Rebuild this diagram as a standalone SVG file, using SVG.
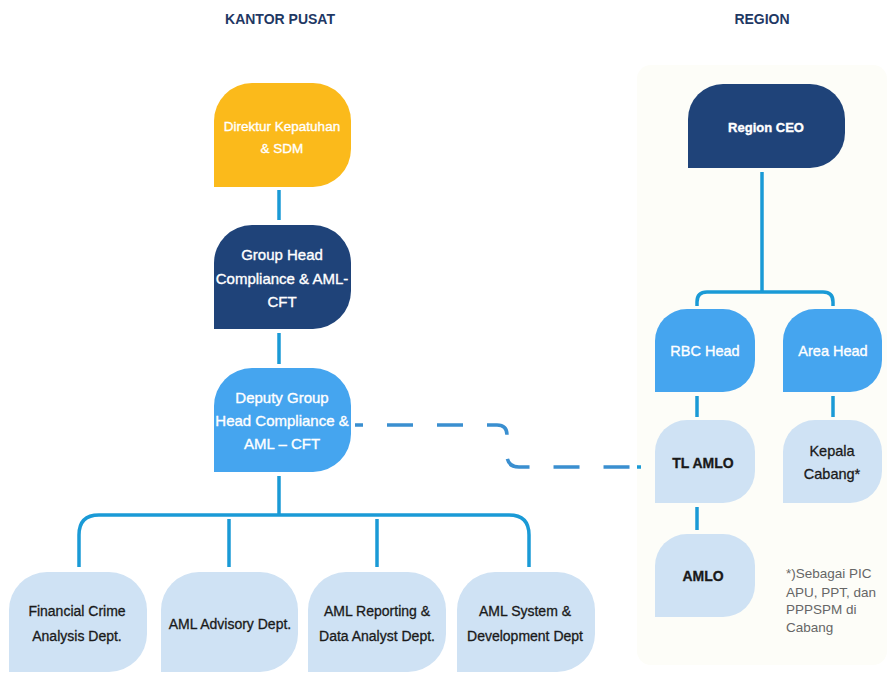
<svg xmlns="http://www.w3.org/2000/svg" width="887" height="675" viewBox="0 0 887 675">
<style>
text{font-family:"Liberation Sans",Arial,sans-serif;text-anchor:middle}
.hdr{font-size:14px;font-weight:bold;fill:#1F3864}
.w{fill:#FFFFFF;stroke:#FFFFFF;stroke-width:0.35}
.d{fill:#1A1A1A;stroke:#1A1A1A;stroke-width:0.3}
.yel{fill:#FBBA1B}
.navy{fill:#1F4379}
.mid{fill:#45A5EF}
.lt{fill:#CFE2F4}
.con{fill:none;stroke:#1A9AD6;stroke-width:3.5}
.dash{fill:none;stroke:#3A8FD0;stroke-width:3.5;stroke-dasharray:26 24}
.note{font-size:13.5px;fill:#666666;text-anchor:start}
</style>
<rect x="637" y="65" width="250" height="600" rx="14" fill="#FDFDF8"/>
<text class="hdr" x="280" y="24">KANTOR PUSAT</text>
<text class="hdr" x="762" y="24">REGION</text>
<g id="connectors">
<path class="con" d="M279 190V220"/>
<path class="con" d="M279 333V364"/>
<path class="con" d="M279 476V515"/>
<path class="con" d="M79 567V535Q79 515 99 515H509Q529 515 529 535V567"/>
<path class="con" d="M229 519V567"/>
<path class="con" d="M377 519V567"/>
<path class="con" d="M762 172V292"/>
<path class="con" d="M697 306V302Q697 292 707 292H823Q833 292 833 302V306"/>
<path class="con" d="M697 396V417"/>
<path class="con" d="M833 396V417"/>
<path class="con" d="M697 507V530"/>
<path class="dash" d="M355 425H497Q507 425 507 435V455Q507 467 519 467H641" stroke-dashoffset="18"/>
<path class="con" stroke="#3A8FD0" d="M637 467H641"/>
</g>
<g id="direktur">
<path class="yel" d="M214 187V121A38 38 0 0 1 252 83H313A38 38 0 0 1 351 121V149A38 38 0 0 1 313 187Z"/>
<text class="w" font-size="13.5" x="282" y="131">Direktur Kepatuhan</text>
<text class="w" font-size="13.5" x="282" y="153">&amp; SDM</text>
</g>
<g id="grouphead">
<path class="navy" d="M214 329V263A38 38 0 0 1 252 225H313A38 38 0 0 1 351 263V291A38 38 0 0 1 313 329Z"/>
<text class="w" font-size="15" x="282" y="260">Group Head</text>
<text class="w" font-size="15" x="282" y="284">Compliance &amp; AML-</text>
<text class="w" font-size="15" x="282" y="307">CFT</text>
</g>
<g id="deputy">
<path class="mid" d="M214 472V406A38 38 0 0 1 252 368H313A38 38 0 0 1 351 406V434A38 38 0 0 1 313 472Z"/>
<text class="w" font-size="15" x="282" y="403">Deputy Group</text>
<text class="w" font-size="15" x="282" y="426">Head Compliance &amp;</text>
<text class="w" font-size="15" x="282" y="449">AML – CFT</text>
</g>
<g id="financial">
<path class="lt" d="M9 672V610A38 38 0 0 1 47 572H109A38 38 0 0 1 147 610V634A38 38 0 0 1 109 672Z"/>
<text class="d" font-size="14" x="77" y="616">Financial Crime</text>
<text class="d" font-size="14" x="77" y="641">Analysis Dept.</text>
</g>
<g id="advisory">
<path class="lt" d="M161 672V610A38 38 0 0 1 199 572H260A38 38 0 0 1 298 610V634A38 38 0 0 1 260 672Z"/>
<text class="d" font-size="14" x="230" y="629">AML Advisory Dept.</text>
</g>
<g id="reporting">
<path class="lt" d="M308 672V610A38 38 0 0 1 346 572H408A38 38 0 0 1 446 610V634A38 38 0 0 1 408 672Z"/>
<text class="d" font-size="14" x="377" y="616">AML Reporting &amp;</text>
<text class="d" font-size="14" x="377" y="641">Data Analyst Dept.</text>
</g>
<g id="system">
<path class="lt" d="M457 672V610A38 38 0 0 1 495 572H557A38 38 0 0 1 595 610V634A38 38 0 0 1 557 672Z"/>
<text class="d" font-size="14" x="525" y="616">AML System &amp;</text>
<text class="d" font-size="14" x="525" y="641">Development Dept</text>
</g>
<g id="regionceo">
<path class="navy" d="M688 168V119A35 35 0 0 1 723 84H810A35 35 0 0 1 845 119V133A35 35 0 0 1 810 168Z"/>
<text class="w" font-size="13" font-weight="bold" x="766" y="132">Region CEO</text>
</g>
<g id="rbchead">
<path class="mid" d="M655 392V341A32 32 0 0 1 687 309H723A32 32 0 0 1 755 341V360A32 32 0 0 1 723 392Z"/>
<text class="w" font-size="14.5" x="705" y="356">RBC Head</text>
</g>
<g id="areahead">
<path class="mid" d="M783 392V341A32 32 0 0 1 815 309H850A32 32 0 0 1 882 341V360A32 32 0 0 1 850 392Z"/>
<text class="w" font-size="14.5" x="833" y="356">Area Head</text>
</g>
<g id="tlamlo">
<path class="lt" d="M655 503V452A32 32 0 0 1 687 420H723A32 32 0 0 1 755 452V471A32 32 0 0 1 723 503Z"/>
<text class="d" font-size="14" font-weight="bold" x="703" y="468">TL AMLO</text>
</g>
<g id="kepala">
<path class="lt" d="M783 503V452A32 32 0 0 1 815 420H850A32 32 0 0 1 882 452V471A32 32 0 0 1 850 503Z"/>
<text class="d" font-size="14.5" x="832" y="456">Kepala</text>
<text class="d" font-size="14.5" x="832" y="479">Cabang*</text>
</g>
<g id="amlo">
<path class="lt" d="M655 617V566A32 32 0 0 1 687 534H723A32 32 0 0 1 755 566V585A32 32 0 0 1 723 617Z"/>
<text class="d" font-size="14" font-weight="bold" x="703" y="581">AMLO</text>
</g>
<g id="footnote">
<text class="note" x="786" y="578">*)Sebagai PIC</text>
<text class="note" x="786" y="597">APU, PPT, dan</text>
<text class="note" x="786" y="614">PPPSPM di</text>
<text class="note" x="786" y="632">Cabang</text>
</g>
</svg>
